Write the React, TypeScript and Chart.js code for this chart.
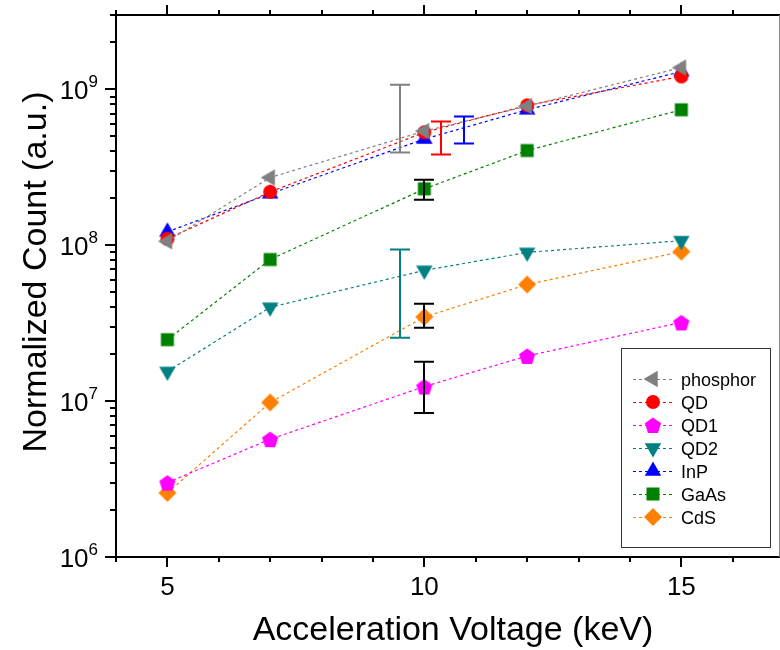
import React, { useEffect, useRef } from "react";
import { Chart, registerables } from "chart.js";

Chart.register(...registerables);

// ---------- data ----------
const VOLTAGES = [5, 7, 10, 12, 15];
const SERIES_NAMES = ["phosphor", "QD", "QD1", "QD2", "InP", "GaAs", "CdS"];
const PHOSPHOR = [1.06e8, 2.72e8, 5.4e8, 7.8e8, 1.38e9];
const QD = [1.1e8, 2.2e8, 5.3e8, 7.9e8, 1.21e9];
const QD1 = [3.0e6, 5.7e6, 1.24e7, 1.95e7, 3.2e7];
const QD2 = [1.55e7, 4.0e7, 6.9e7, 9.0e7, 1.07e8];
const INP = [1.22e8, 2.14e8, 4.8e8, 7.4e8, 1.3e9];
const GAAS = [2.48e7, 8.1e7, 2.3e8, 4.05e8, 7.4e8];
const CDS = [2.58e6, 9.8e6, 3.47e7, 5.6e7, 9.1e7];
const SERIES_VALUES = [PHOSPHOR, QD, QD1, QD2, INP, GAAS, CDS];

// standalone error bars
const ERR_X = [9.53, 10.32, 10.77, 10.0, 9.53, 10.0, 10.0];
const ERR_LOW = [3.94e8, 3.82e8, 4.5e8, 1.96e8, 2.55e7, 2.96e7, 8.4e6];
const ERR_HIGH = [1.07e9, 6.22e8, 6.7e8, 2.63e8, 9.38e7, 4.22e7, 1.79e7];
const ERR_COLORS = ["#808080", "#FF0000", "#0000FF", "#000000", "#008080", "#000000", "#000000"];

// axes
const X_MIN = 4;
const X_MAX = 16.9;
const X_TICKS = [4, 5, 6, 7, 8, 9, 10, 11, 12, 13, 14, 15, 16];
const X_LABELS = [5, 10, 15];
const Y_MIN = 1e6;
const Y_MAX = 3e9;
const Y_DECADES = [6, 7, 8, 9];
const X_TITLE = "Acceleration Voltage (keV)";
const Y_TITLE = "Normalized Count (a.u.)";

// ---------- styles ----------
const COLORS = ["#808080", "#FF0000", "#FF00FF", "#008080", "#0000FF", "#008000", "#FF8000"];
const SHAPES = ["left", "circle", "pentagon", "down", "up", "square", "diamond"];
const FONT = 'Arial, "Liberation Sans", sans-serif';

function pathMarker(ctx: CanvasRenderingContext2D, shape: string, x: number, y: number) {
  ctx.beginPath();
  const s3 = Math.sqrt(3) / 2;
  switch (shape) {
    case "left": {
      const r = 9.5;
      ctx.moveTo(x - r, y);
      ctx.lineTo(x + r / 2, y - r * s3);
      ctx.lineTo(x + r / 2, y + r * s3);
      break;
    }
    case "up": {
      const r = 9.5;
      ctx.moveTo(x, y - r);
      ctx.lineTo(x + r * s3, y + r / 2);
      ctx.lineTo(x - r * s3, y + r / 2);
      break;
    }
    case "down": {
      const r = 9.5;
      ctx.moveTo(x, y + r);
      ctx.lineTo(x + r * s3, y - r / 2);
      ctx.lineTo(x - r * s3, y - r / 2);
      break;
    }
    case "circle":
      ctx.arc(x, y, 7, 0, Math.PI * 2);
      break;
    case "square":
      ctx.rect(x - 6.5, y - 6.5, 13, 13);
      break;
    case "diamond": {
      const r = 9;
      ctx.moveTo(x - r, y);
      ctx.lineTo(x, y - r);
      ctx.lineTo(x + r, y);
      ctx.lineTo(x, y + r);
      break;
    }
    case "pentagon": {
      const r = 8.5;
      for (let k = 0; k < 5; k++) {
        const a = -Math.PI / 2 + (k * 2 * Math.PI) / 5;
        const px = x + r * Math.cos(a);
        const py = y + 1 + r * Math.sin(a);
        if (k === 0) ctx.moveTo(px, py);
        else ctx.lineTo(px, py);
      }
      break;
    }
  }
  ctx.closePath();
}

function makeMarkerImage(shape: string, color: string): HTMLCanvasElement {
  const c = document.createElement("canvas");
  c.width = 24;
  c.height = 24;
  const ctx = c.getContext("2d")!;
  ctx.fillStyle = color;
  pathMarker(ctx, shape, 12, 12);
  ctx.fill();
  return c;
}

const overlayPlugin = {
  id: "overlay",
  afterDatasetsDraw(chart: any) {
    const ctx: CanvasRenderingContext2D = chart.ctx;
    const xs = chart.scales.x;
    const ys = chart.scales.y;
    ctx.save();
    ctx.lineWidth = 2;
    for (let i = 0; i < ERR_X.length; i++) {
      const px = Math.round(xs.getPixelForValue(ERR_X[i]));
      const yl = ys.getPixelForValue(ERR_LOW[i]);
      const yh = ys.getPixelForValue(ERR_HIGH[i]);
      ctx.strokeStyle = ERR_COLORS[i];
      ctx.beginPath();
      ctx.moveTo(px, yl);
      ctx.lineTo(px, yh);
      ctx.moveTo(px - 10, yl);
      ctx.lineTo(px + 10, yl);
      ctx.moveTo(px - 10, yh);
      ctx.lineTo(px + 10, yh);
      ctx.stroke();
    }
    ctx.restore();
  },
  afterDraw(chart: any) {
    const ctx: CanvasRenderingContext2D = chart.ctx;
    const { left, right, top, bottom } = chart.chartArea;
    const xs = chart.scales.x;
    const ys = chart.scales.y;
    ctx.save();
    ctx.strokeStyle = "#000";
    ctx.lineWidth = 2;
    // frame
    ctx.beginPath();
    ctx.moveTo(left - 1, top);
    ctx.lineTo(right + 1, top);
    ctx.moveTo(left, top - 1);
    ctx.lineTo(left, bottom + 1);
    ctx.moveTo(left - 1, bottom);
    ctx.lineTo(right + 1, bottom);
    ctx.stroke();
    ctx.strokeStyle = "#888";
    ctx.lineWidth = 1;
    ctx.beginPath();
    ctx.moveTo(right + 0.5, top);
    ctx.lineTo(right + 0.5, bottom);
    ctx.stroke();

    // x ticks (bottom + top)
    ctx.strokeStyle = "#000";
    ctx.lineWidth = 2;
    ctx.beginPath();
    for (const v of X_TICKS) {
      const px = Math.round(xs.getPixelForValue(v));
      const major = X_LABELS.includes(v);
      const len = major ? 10 : 5;
      ctx.moveTo(px, bottom);
      ctx.lineTo(px, bottom + len);
      ctx.moveTo(px, top);
      ctx.lineTo(px, top - len);
    }
    // y ticks
    for (const d of Y_DECADES) {
      for (let m = 1; m <= 9; m++) {
        const val = m * Math.pow(10, d);
        if (val < Y_MIN || val > Y_MAX) continue;
        const py = Math.round(ys.getPixelForValue(val));
        const len = m === 1 ? 11 : 6;
        ctx.moveTo(left, py);
        ctx.lineTo(left - len, py);
      }
    }
    ctx.stroke();

    // x tick labels
    ctx.fillStyle = "#000";
    ctx.font = `26px ${FONT}`;
    ctx.textAlign = "center";
    ctx.textBaseline = "alphabetic";
    for (const v of X_LABELS) {
      ctx.fillText(String(v), xs.getPixelForValue(v), bottom + 38);
    }
    // y tick labels 10^n
    for (const d of Y_DECADES) {
      const py = ys.getPixelForValue(Math.pow(10, d));
      const rightEdge = left - 18;
      ctx.font = `17px ${FONT}`;
      ctx.textAlign = "right";
      const ew = ctx.measureText(String(d)).width;
      ctx.fillText(String(d), rightEdge, py - 2);
      ctx.font = `26px ${FONT}`;
      ctx.fillText("10", rightEdge - ew, py + 10);
    }
    // axis titles
    ctx.font = `34px ${FONT}`;
    ctx.textAlign = "center";
    ctx.fillText(X_TITLE, 453, 640);
    ctx.save();
    ctx.translate(46, 272);
    ctx.rotate(-Math.PI / 2);
    ctx.fillText(Y_TITLE, 0, 0);
    ctx.restore();

    // legend
    const bx = 621.5, by = 348.5, bw = 149, bh = 199;
    ctx.strokeStyle = "#333";
    ctx.lineWidth = 1;
    ctx.strokeRect(bx, by, bw, bh);
    ctx.font = `18px ${FONT}`;
    ctx.textAlign = "left";
    for (let i = 0; i < SERIES_NAMES.length; i++) {
      const ry = 379 + i * 23;
      ctx.save();
      ctx.strokeStyle = COLORS[i];
      ctx.lineWidth = 1.2;
      ctx.setLineDash([3, 3]);
      ctx.beginPath();
      ctx.moveTo(633, ry + 0.5);
      ctx.lineTo(673, ry + 0.5);
      ctx.stroke();
      ctx.restore();
      ctx.fillStyle = COLORS[i];
      pathMarker(ctx, SHAPES[i], 653, ry);
      ctx.fill();
      ctx.fillStyle = "#000";
      ctx.fillText(SERIES_NAMES[i], 681, ry + 7);
    }
    ctx.restore();
  },
};

export default function App() {
  const canvasRef = useRef<HTMLCanvasElement | null>(null);

  useEffect(() => {
    if (!canvasRef.current) return;
    const datasets = SERIES_NAMES.map((name, i) => {
      const img = makeMarkerImage(SHAPES[i], COLORS[i]);
      return {
        label: name,
        data: VOLTAGES.map((x, j) => ({ x, y: SERIES_VALUES[i][j] })),
        borderColor: COLORS[i],
        backgroundColor: COLORS[i],
        borderWidth: 1.2,
        borderDash: [3, 3],
        pointStyle: img as any,
        pointRadius: 9,
        tension: 0,
        fill: false,
      };
    });
    const chart = new Chart(canvasRef.current, {
      type: "line",
      data: { datasets: datasets as any },
      plugins: [overlayPlugin as any],
      options: {
        animation: false,
        responsive: true,
        maintainAspectRatio: false,
        events: [],
        layout: { autoPadding: false, padding: { top: 15, right: 1, left: 0, bottom: 0 } },
        plugins: {
          legend: { display: false },
          tooltip: { enabled: false },
          title: { display: false },
        },
        scales: {
          x: {
            type: "linear",
            min: X_MIN,
            max: X_MAX,
            grid: { display: false },
            border: { display: false },
            ticks: { display: false },
            afterFit: (s: any) => {
              s.height = 93;
            },
          },
          y: {
            type: "logarithmic",
            min: Y_MIN,
            max: Y_MAX,
            grid: { display: false },
            border: { display: false },
            ticks: { display: false },
            afterFit: (s: any) => {
              s.width = 116;
            },
          },
        },
      },
    } as any);
    return () => chart.destroy();
  }, []);

  return (
    <div style={{ position: "fixed", left: 0, top: 0, width: 780, height: 650, background: "#fff" }}>
      <canvas ref={canvasRef} />
    </div>
  );
}
